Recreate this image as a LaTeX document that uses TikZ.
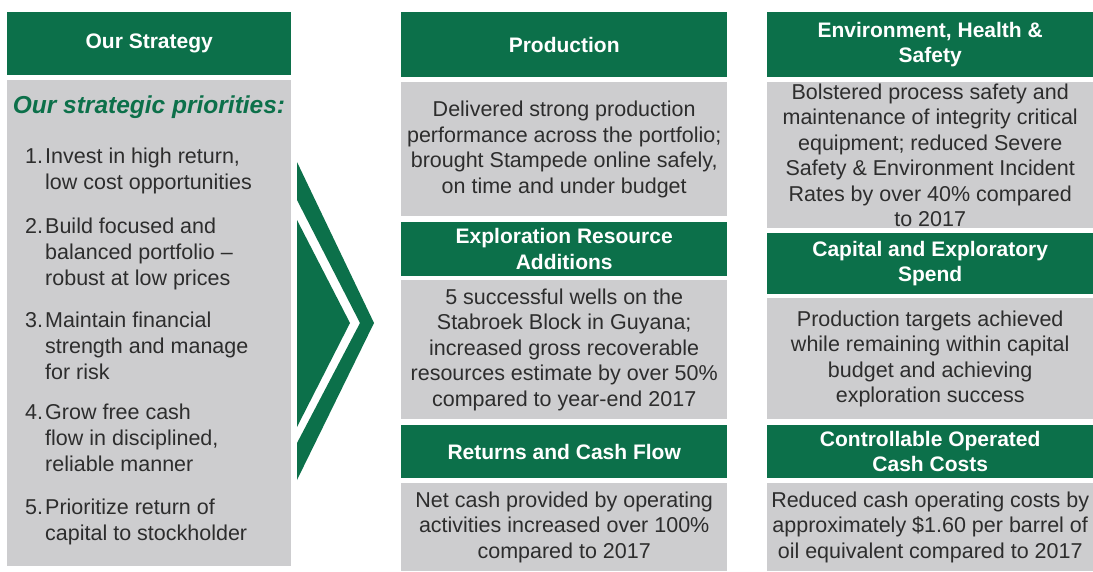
\documentclass[tikz,border=0pt]{standalone}
\usepackage{fontspec}
\setmainfont{Liberation Sans}
\definecolor{xomgreen}{RGB}{12,112,74}
\definecolor{panelgray}{RGB}{205,205,207}
\definecolor{bodytext}{RGB}{45,45,45}
\begin{document}
\begin{tikzpicture}[x=1pt,y=-1pt,line join=round,
	head/.style={fill=xomgreen,text=white,font=\fontsize{21}{25.5}\selectfont\bfseries,align=center,inner sep=0pt,anchor=north west},
	panel/.style={fill=panelgray,text=bodytext,font=\fontsize{21.5}{25.5}\selectfont,align=center,inner sep=0pt,anchor=north west},
	prio/.style={text=bodytext,font=\fontsize{21.5}{26}\selectfont,inner sep=0pt,anchor=base west}]
			\useasboundingbox (0,0) rectangle (1093,571);
			\node[head,minimum width=284,minimum height=63] (strategy) at (7,12) {Our Strategy};
			\node[panel,minimum width=284,minimum height=486] (priorities) at (7,80) {};
			\node[text=xomgreen,font=\fontsize{24.5}{28}\selectfont\bfseries\itshape,inner sep=0pt,anchor=base] (ptitle) at (149,113) {Our strategic priorities:};
			\node[prio] (p1) at (25,163) {\begin{tabular}[t]{@{}p{20pt}@{}l@{}}1. & Invest in high return,\\ & low cost opportunities\end{tabular}};
			\node[prio] (p2) at (25,233) {\begin{tabular}[t]{@{}p{20pt}@{}l@{}}2. & Build focused and\\ & balanced portfolio --\\ & robust at low prices\end{tabular}};
			\node[prio] (p3) at (25,327) {\begin{tabular}[t]{@{}p{20pt}@{}l@{}}3. & Maintain financial\\ & strength and manage\\ & for risk\end{tabular}};
			\node[prio] (p4) at (25,419) {\begin{tabular}[t]{@{}p{20pt}@{}l@{}}4. & Grow free cash\\ & flow in disciplined,\\ & reliable manner\end{tabular}};
			\node[prio] (p5) at (25,514) {\begin{tabular}[t]{@{}p{20pt}@{}l@{}}5. & Prioritize return of\\ & capital to stockholder\end{tabular}};
			\fill[xomgreen] (297,162)--(374,323)--(297,480)--(297,443)--(360,323)--(297,200)--cycle;
			\fill[xomgreen] (297,220)--(350,323)--(297,427)--cycle;
			\node[head,minimum width=326,minimum height=65] (prod) at (401,12) {Production};
			\node[panel,minimum width=326,minimum height=134] (prodtxt) at (401,82) {Delivered strong production\\performance across the portfolio;\\brought Stampede online safely,\\on time and under budget};
			\node[head,minimum width=326,minimum height=54] (explo) at (401,222) {Exploration Resource\\Additions};
			\node[panel,minimum width=326,minimum height=139] (explotxt) at (401,280) {5 successful wells on the\\Stabroek Block in Guyana;\\increased gross recoverable\\resources estimate by over 50\%\\compared to year-end 2017};
			\node[head,minimum width=326,minimum height=53] (returns) at (401,425) {Returns and Cash Flow};
			\node[panel,minimum width=326,minimum height=88] (returnstxt) at (401,483) {Net cash provided by operating\\activities increased over 100\%\\compared to 2017};
			\node[head,minimum width=326,minimum height=65] (ehs) at (767,12) {Environment, Health \&\\Safety};
			\node[panel,minimum width=326,minimum height=146] (ehstxt) at (767,82) {Bolstered process safety and\\maintenance of integrity critical\\equipment; reduced Severe\\Safety \& Environment Incident\\Rates by over 40\% compared\\to 2017};
			\node[head,minimum width=326,minimum height=61] (capex) at (767,233) {Capital and Exploratory\\Spend};
			\node[panel,minimum width=326,minimum height=121] (capextxt) at (767,298) {Production targets achieved\\while remaining within capital\\budget and achieving\\exploration success};
			\node[head,minimum width=326,minimum height=53] (costs) at (767,425) {Controllable Operated\\Cash Costs};
			\node[panel,minimum width=326,minimum height=88] (coststxt) at (767,483) {Reduced cash operating costs by\\approximately \$1.60 per barrel of\\oil equivalent compared to 2017};
		\end{tikzpicture}
\end{document}
